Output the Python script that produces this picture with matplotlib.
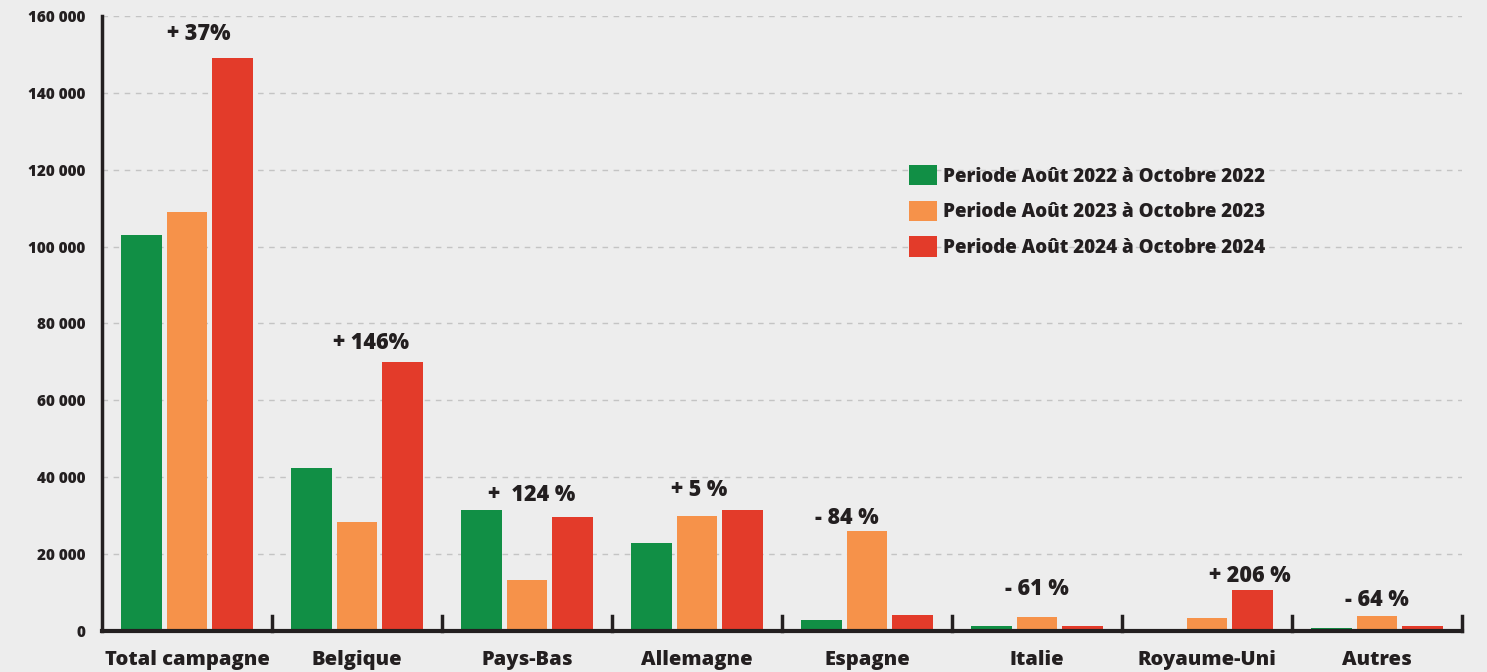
import numpy as np
import matplotlib
matplotlib.use("Agg")
import matplotlib.pyplot as plt
from matplotlib.ticker import FuncFormatter

# data
categories = ["Total campagne", "Belgique", "Pays-Bas", "Allemagne",
              "Espagne", "Italie", "Royaume-Uni", "Autres"]
periods = ["Periode Août 2022 à Octobre 2022",
           "Periode Août 2023 à Octobre 2023",
           "Periode Août 2024 à Octobre 2024"]
v2022 = [103000, 42400, 31500, 22900, 2900, 1300, 0, 800]
v2023 = [109000, 28400, 13300, 29900, 26000, 3700, 3400, 3900]
v2024 = [149100, 70000, 29700, 31500, 4200, 1300, 10700, 1300]
changes = ["+ 37%", "+ 146%", "+  124 %", "+ 5 %", "- 84 %", "- 61 %", "+ 206 %", "- 64 %"]
change_x = [0.07, 1.08, 2.03, 3.01, 3.88, 5.0, 6.25, 7.0]
change_y = [155300, 74900, 35400, 36700, 29400, 10900, 14300, 8100]

colors = ["#118f45", "#f6924a", "#e33b2a"]
dark = "#231f20"
bg = "#ededed"
W = "heavy"

plt.rcParams['font.family'] = ['Open Sans', 'DejaVu Sans']

fig = plt.figure(figsize=(14.87, 6.72), dpi=100, facecolor=bg)
ax = fig.add_axes([102 / 1487, 1 - 631 / 672, 1360 / 1487, 615 / 672])
ax.set_facecolor(bg)

x = np.arange(len(categories))
w = 0.241
off = 0.265
for i, vals in enumerate([v2022, v2023, v2024]):
    ax.bar(x + (i - 1) * off, vals, width=w, color=colors[i], label=periods[i], zorder=3)

for cx, cy, t in zip(change_x, change_y, changes):
    ax.text(cx, cy, t, ha="center", va="center", fontsize=15.5, fontweight=W, color=dark)

ax.set_xlim(-0.5, len(categories) - 0.5)
ax.set_ylim(0, 160000)
ax.set_yticks(np.arange(0, 160001, 20000))
ax.yaxis.set_major_formatter(FuncFormatter(lambda v, p: f"{int(v):,}".replace(",", " ")))
ax.grid(axis="y", linestyle=(0, (4, 4)), color="#c4c4c4", linewidth=1, zorder=0)

ax.set_xticks(x)
ax.set_xticklabels(categories, fontsize=14.5, fontweight=W, color=dark)
ax.tick_params(axis="x", length=0, pad=14)
ax.tick_params(axis="y", length=0, pad=12, labelsize=11, labelcolor=dark)
for lab in ax.get_yticklabels():
    lab.set_fontweight(W)

# boundary ticks between groups
for b in np.arange(0.5, len(categories), 1.0):
    ax.plot([b, b], [0, 4000], color=dark, lw=2.5, zorder=4, clip_on=False)

for s in ["top", "right"]:
    ax.spines[s].set_visible(False)
ax.spines["left"].set_color(dark)
ax.spines["left"].set_linewidth(2.5)
ax.spines["bottom"].set_color(dark)
ax.spines["bottom"].set_linewidth(3)
ax.spines["bottom"].set_zorder(5)

leg = ax.legend(loc="upper left", bbox_to_anchor=(807 / 1360, 1 - 149 / 615),
                frameon=False, fontsize=13.5, handlelength=1.5, handleheight=1.3,
                handletextpad=0.3, labelspacing=0.75, borderpad=0, borderaxespad=0)
for t in leg.get_texts():
    t.set_fontweight(W)
    t.set_color(dark)

fig.savefig("out.png", dpi=100, facecolor=bg)
